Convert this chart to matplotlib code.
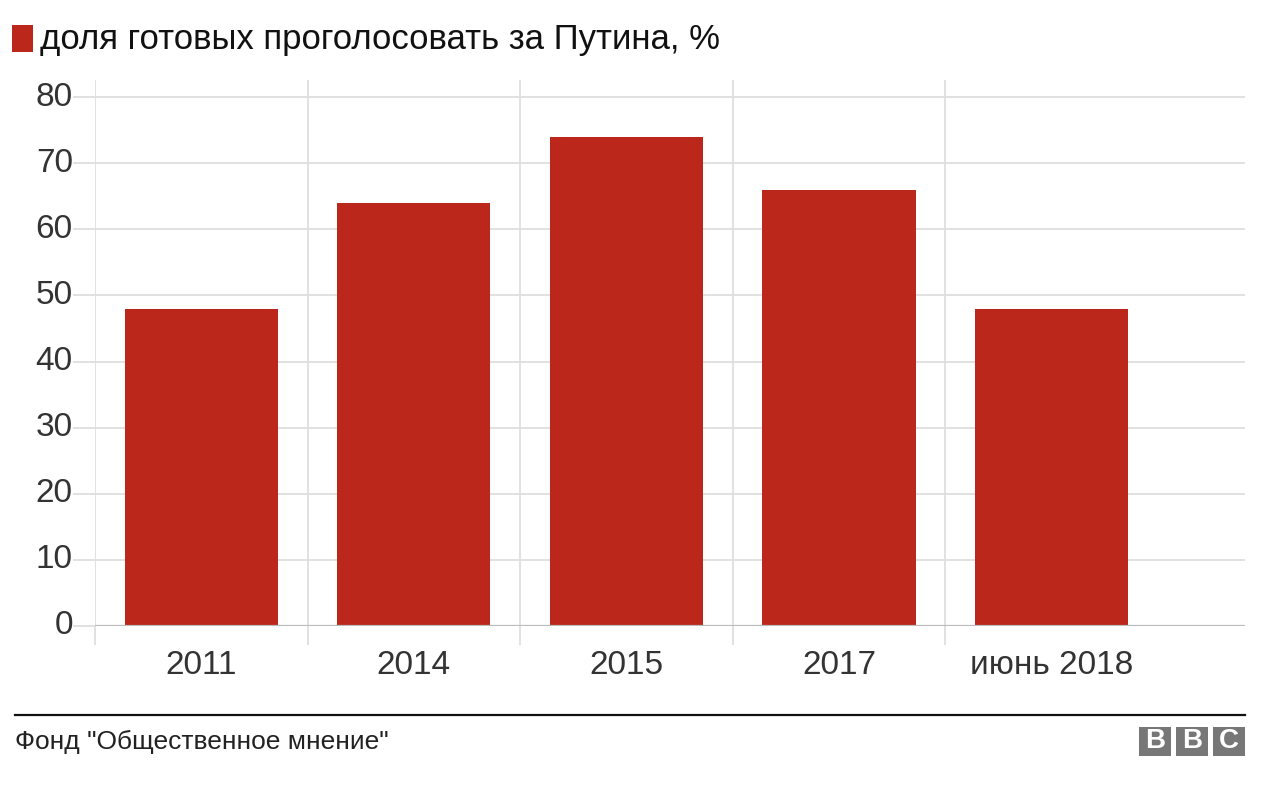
import matplotlib
matplotlib.use("Agg")
import matplotlib.pyplot as plt
from matplotlib.patches import Rectangle
from matplotlib.lines import Line2D

plt.rcParams["font.family"] = ["Liberation Sans", "DejaVu Sans"]

categories = ["2011", "2014", "2015", "2017", "июнь 2018"]
values = [48, 64, 74, 66, 48]
yticks = [0, 10, 20, 30, 40, 50, 60, 70, 80]

legend_label = "доля готовых проголосовать за Путина, %"
source = 'Фонд "Общественное мнение"'

W, H = 1280, 792
RED = "#BB271A"
GRID = "#DEDEDE"
TXT = "#333333"

fig = plt.figure(figsize=(W / 100, H / 100), dpi=100)
fig.patch.set_facecolor("white")

# axes in pixel coords: x 95..1245, y (top) 80..626 (bottom)
ax = fig.add_axes([95 / W, (H - 626) / H, (1245 - 95) / W, (626 - 80) / H])
xs = list(range(len(categories)))
ax.bar(xs, values, width=0.72, color=RED, zorder=3)

ax.set_xlim(-0.49, 4.91)
ax.set_ylim(0, 82.6)
ax.set_yticks(yticks)
ax.set_xticks(xs)
ax.set_xticklabels(categories)
ax.set_xticks([x - 0.5 for x in xs], minor=True)

for s in ax.spines.values():
    s.set_visible(False)

ax.grid(axis="y", which="major", color=GRID, lw=1.3, zorder=0)
ax.grid(axis="x", which="minor", color=GRID, lw=1.3, zorder=0)
ax.grid(axis="x", which="major", visible=False)
ax.axhline(0, color="#BBBBBB", lw=1.6, zorder=4)

ax.tick_params(axis="x", which="major", length=0, pad=17, labelsize=24, labelcolor=TXT)
ax.tick_params(axis="x", which="minor", length=14, color=GRID, width=1.3)
ax.tick_params(axis="y", length=16, color=GRID, width=1.3, pad=0,
               labelsize=24, labelcolor=TXT)
for lab in ax.get_yticklabels():
    lab.set_verticalalignment("center")

# legend-style header
fig.add_artist(Rectangle((12 / W, 1 - 52 / H), 21 / W, 27 / H,
                         transform=fig.transFigure, fc=RED, ec="none"))
fig.text(40 / W, 1 - 40 / H, legend_label, ha="left", va="center",
         fontsize=25, color="#111111")

# footer rule, source, logo
fig.add_artist(Line2D([15 / W, 1245 / W], [1 - 715 / H, 1 - 715 / H],
                      transform=fig.transFigure, color="#111111", lw=1.6))
fig.text(15 / W, 1 - 742 / H, source, ha="left", va="center",
         fontsize=19, color="#222222")

bw, gap = 32, 5
x0 = 1245 - 3 * bw - 2 * gap
for i, letter in enumerate("BBC"):
    bx = x0 + i * (bw + gap)
    fig.add_artist(Rectangle((bx / W, 1 - 756 / H), bw / W, 29 / H,
                             transform=fig.transFigure, fc="#777777", ec="none"))
    fig.text((bx + bw / 2) / W, 1 - 741.5 / H, letter, ha="center", va="center",
             fontsize=20, fontweight="bold", color="white")

fig.savefig("out.png", dpi=100)
